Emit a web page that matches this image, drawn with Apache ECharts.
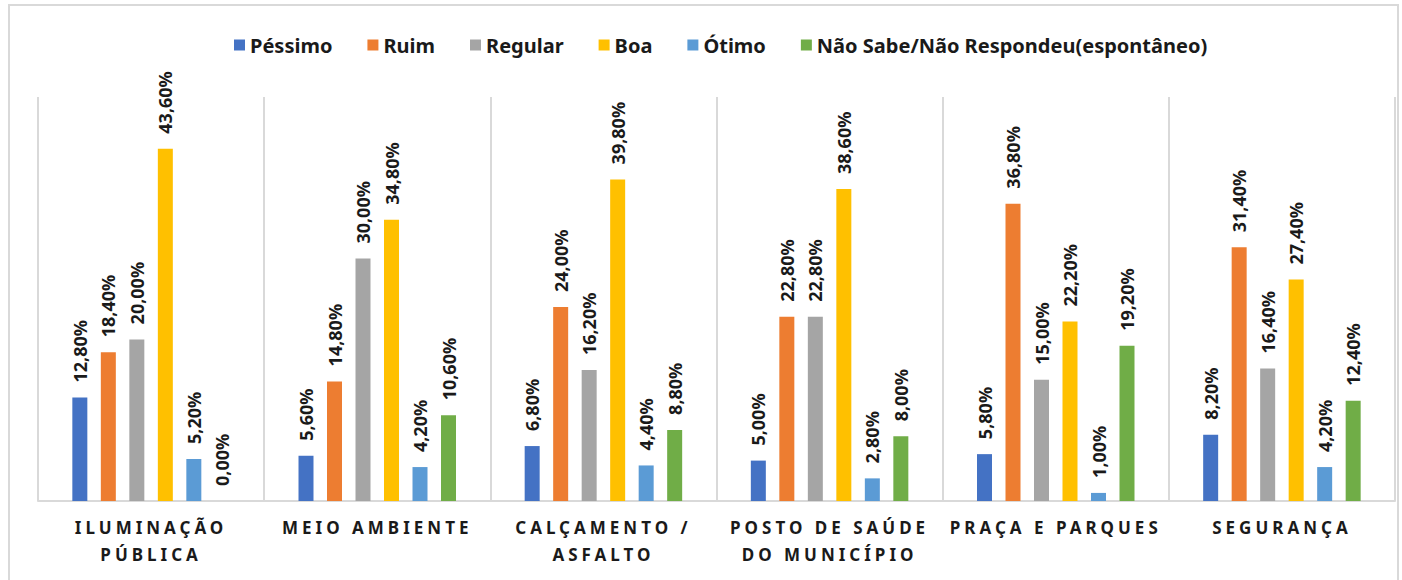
<!DOCTYPE html>
<html>
<head>
<meta charset="utf-8">
<script src="https://cdn.jsdelivr.net/npm/echarts@6/dist/echarts.min.js"></script>
<style>
  html, body { margin: 0; padding: 0; background: #fff; }
  #chart { width: 1402px; height: 580px; }
  /* rótulos do eixo X com espaçamento entre letras */
  #chart text[style*="17px"] { letter-spacing: 4px; }
</style>
</head>
<body>
<div id="chart"></div>
<script>
// categorias e valores (%)
var categorias = ['ILUMINAÇÃO\nPÚBLICA', 'MEIO AMBIENTE', 'CALÇAMENTO /\nASFALTO', 'POSTO DE SAÚDE\nDO MUNICÍPIO', 'PRAÇA E PARQUES', 'SEGURANÇA'];
var pessimo  = [12.8, 5.6, 6.8, 5.0, 5.8, 8.2];
var ruim     = [18.4, 14.8, 24.0, 22.8, 36.8, 31.4];
var regular  = [20.0, 30.0, 16.2, 22.8, 15.0, 16.4];
var boa      = [43.6, 34.8, 39.8, 38.6, 22.2, 27.4];
var otimo    = [5.2, 4.2, 4.4, 2.8, 1.0, 4.2];
var naoSabe  = [0.0, 10.6, 8.8, 8.0, 19.2, 12.4];

var nomes  = ['Péssimo', 'Ruim', 'Regular', 'Boa', 'Ótimo', 'Não Sabe/Não Respondeu(espontâneo)'];
var cores  = ['#4472C4', '#ED7D31', '#A5A5A5', '#FFC000', '#5B9BD5', '#70AD47'];
var dados  = [pessimo, ruim, regular, boa, otimo, naoSabe];

var fonte = '"Noto Sans", sans-serif';

function serie(i) {
  return {
    name: nomes[i],
    type: 'bar',
    data: dados[i],
    barWidth: 15,
    barGap: '90%',
    barCategoryGap: '30%',
    itemStyle: { color: cores[i] },
    label: {
      show: true,
      position: 'top',
      rotate: 90,
      align: 'left',
      verticalAlign: 'middle',
      distance: 15,
      color: '#1a1a1a',
      fontFamily: fonte,
      fontWeight: 'bold',
      fontSize: 18,
      formatter: function (p) { return p.value.toFixed(2).replace('.', ',') + '%'; }
    }
  };
}

var myChart = echarts.init(document.getElementById('chart'), null, { renderer: 'svg' });
myChart.setOption({
  animation: false,
  graphic: [{
    type: 'rect',
    shape: { x: 9, y: 5, width: 1389, height: 600 },
    style: { fill: 'none', stroke: '#d9d9d9', lineWidth: 2 }
  }],
  legend: {
    top: 30,
    left: 229,
    itemWidth: 11,
    itemHeight: 11,
    itemGap: 35,
    icon: 'rect',
    textStyle: { fontFamily: fonte, fontWeight: 'bold', fontSize: 20, color: '#1a1a1a' }
  },
  grid: { left: 38, right: 7, top: 97, bottom: 79 },
  xAxis: {
    type: 'category',
    data: categorias,
    axisTick: { show: false },
    axisLine: { lineStyle: { color: '#d9d9d9', width: 2 } },
    splitLine: { show: true, interval: 0, lineStyle: { color: '#d9d9d9', width: 2 } },
    axisLabel: {
      interval: 0,
      margin: 13,
      lineHeight: 27,
      color: '#1a1a1a',
      fontFamily: fonte,
      fontWeight: 'bold',
      fontSize: 17
    }
  },
  yAxis: {
    type: 'value',
    min: 0,
    max: 50,
    show: false
  },
  series: [0, 1, 2, 3, 4, 5].map(serie)
});
</script>
</body>
</html>
